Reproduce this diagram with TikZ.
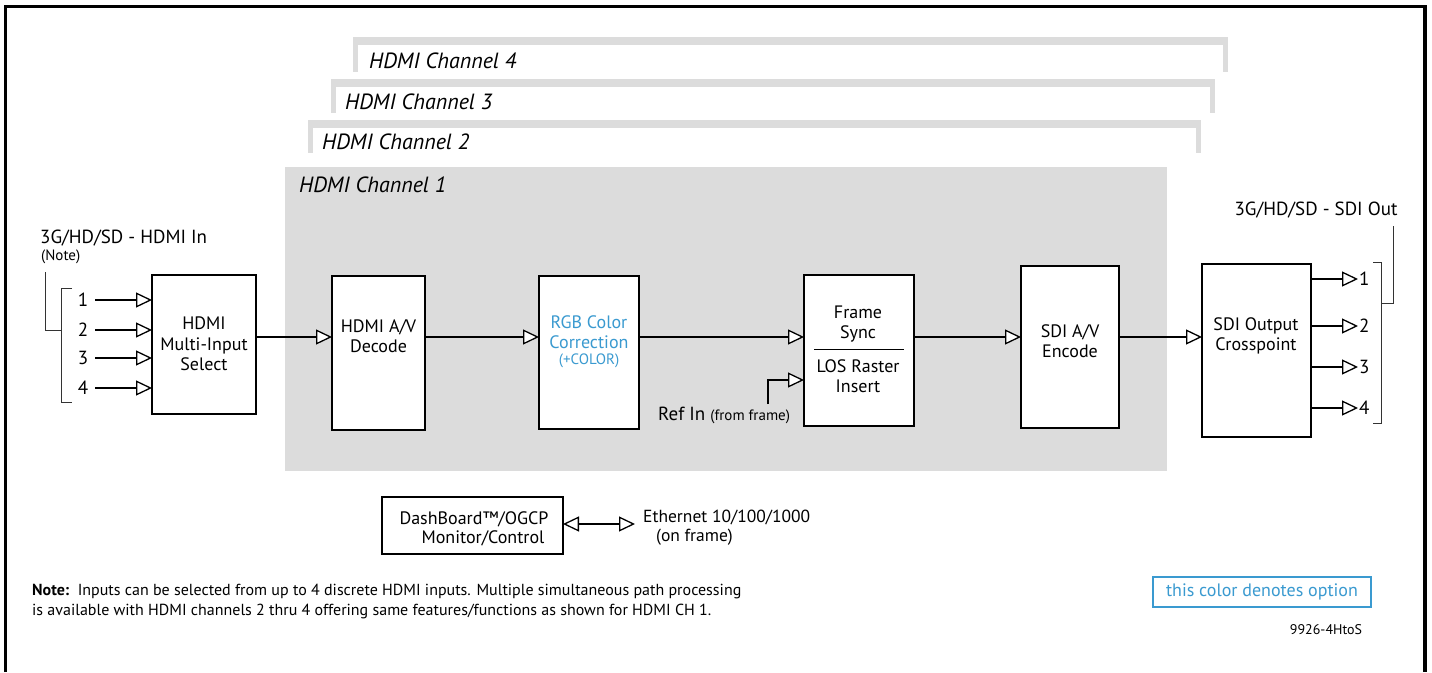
\documentclass[tikz,border=0pt]{standalone}
\usepackage{fontspec}
\setmainfont{PT Sans}
\usetikzlibrary{arrows.meta}
\definecolor{chgray}{HTML}{DCDCDC}
\definecolor{optblue}{HTML}{3A9AD0}
\begin{document}
\begin{tikzpicture}[x=1pt,y=-1pt,
  blk/.style={draw, line width=1.6pt, fill=white, anchor=north west, inner sep=0pt, outer sep=0pt},
  flow/.style={line width=1.4pt, -{Triangle[length=16pt, width=15pt, line width=1.3pt, fill=white]}},
  dbl/.style={line width=1.4pt, {Triangle[length=16pt, width=15pt, line width=1.3pt, fill=white]}-{Triangle[length=16pt, width=15pt, line width=1.3pt, fill=white]}},
  btxt/.style={font=\fontsize{18}{20.5}\selectfont, align=center, inner sep=0pt},
  chlbl/.style={font=\fontsize{22}{24}\selectfont\itshape, anchor=west, inner sep=0pt},
  lbl/.style={font=\fontsize{16.5}{19}\selectfont, inner sep=0pt},
  biglbl/.style={font=\fontsize{19}{22}\selectfont, inner sep=0pt},
  small/.style={font=\fontsize{15}{17}\selectfont, inner sep=0pt},
  brk/.style={line width=1pt, color=black!80},
  line join=miter
]
\useasboundingbox (0,0) rectangle (1432,672);
% frame
\draw[line width=3.5pt] (5.5,672) -- (5.5,6.5) -- (1425,6.5) -- (1425,672);
% channel brackets
\fill[chgray] (353,37) rectangle (1228,45);
\fill[chgray] (353,45) rectangle (358,72);
\fill[chgray] (1223,45) rectangle (1228,72);
\fill[chgray] (331,79) rectangle (1215,87);
\fill[chgray] (331,87) rectangle (336,113);
\fill[chgray] (1210,87) rectangle (1215,113);
\fill[chgray] (308,120) rectangle (1201,128);
\fill[chgray] (308,128) rectangle (313,153);
\fill[chgray] (1196,128) rectangle (1201,153);
\fill[chgray] (285,167) rectangle (1167,471);
\node[chlbl] (c4) at (369,61) {HDMI Channel 4};
\node[chlbl] (c3) at (345,102) {HDMI Channel 3};
\node[chlbl] (c2) at (322,142) {HDMI Channel 2};
\node[chlbl] (c1) at (299,185) {HDMI Channel 1};
% boxes
\node[blk, minimum width=104pt, minimum height=139pt] (mis) at (152,275) {};
\node[blk, minimum width=93pt, minimum height=154pt] (dec) at (332,276) {};
\node[blk, minimum width=100pt, minimum height=153pt] (rgb) at (539,276) {};
\node[blk, minimum width=110pt, minimum height=151pt] (fs) at (804,275) {};
\node[blk, minimum width=98pt, minimum height=162pt] (enc) at (1021,266) {};
\node[blk, minimum width=109pt, minimum height=173pt] (xp) at (1202,264) {};
\node[blk, minimum width=181pt, minimum height=57pt] (dash) at (382,497) {};
\node[blk, draw=optblue, line width=2.6pt, minimum width=218pt, minimum height=30pt] (leg) at (1153,577) {};
% box texts
\node[btxt] (tmis) at (204,344) {HDMI\\Multi-Input\\Select};
\node[btxt] (tdec) at (378.5,336) {HDMI A/V\\Decode};
\node[btxt, text=optblue] (trgb) at (589,332) {RGB Color\\Correction};
\node[small, text=optblue] (trgbo) at (589,361) {(+COLOR)};
\node[btxt] (tfs1) at (858,324) {Frame\\Sync};
\draw[line width=1pt] (814,349) -- (904,349);
\node[btxt] (tfs2) at (858,376) {LOS Raster\\Insert};
\node[btxt] (tenc) at (1070,341) {SDI A/V\\Encode};
\node[btxt] (txp) at (1256,336) {SDI Output\\Crosspoint};
\node[btxt] (td1) at (474,519) {DashBoard™/OGCP};
\node[btxt] (td2) at (483,538) {Monitor/Control};
\node[lbl, font=\fontsize{18}{20}\selectfont, text=optblue] (tleg) at (1262,592) {this color denotes option};
\node[small, font=\fontsize{14}{16}\selectfont] (fig) at (1326,630) {9926-4HtoS};
% flow
\coordinate (fy) at (0,337);
\draw[flow] (mis.east |- fy) -- (dec.west |- fy);
\draw[flow] (dec.east |- fy) -- (rgb.west |- fy);
\draw[flow] (rgb.east |- fy) -- (fs.west |- fy);
\draw[flow] (fs.east |- fy) -- (enc.west |- fy);
\draw[flow] (enc.east |- fy) -- (xp.west |- fy);
% ref in
\coordinate (rc) at (768,404);
\coordinate (ry) at (0,380);
\draw[flow] (rc) -- (768,380) -- (fs.west |- ry);
\node[biglbl, anchor=west] (tref) at (658,415) {Ref In \fontsize{15}{17}\selectfont(from frame)};
% inputs
\foreach \n/\yy in {1/300,2/330,3/358,4/388}{
  \coordinate (i\n) at (95,\yy);
  \node[biglbl] (ti\n) at (83,\yy) {\n};
  \draw[flow] (i\n) -- (mis.west |- i\n);
}
\draw[brk] (72,288) -- (61,288) -- (61,402) -- (72,402);
\draw[brk] (45,272) -- (45,330) -- (61,330);
\node[biglbl, anchor=west] (tin) at (40,238) {3G/HD/SD - HDMI In};
\node[small, anchor=west] (tnote) at (41,257) {(Note)};
% outputs
\foreach \n/\yy in {1/279,2/326,3/367,4/408}{
  \coordinate (o\n) at (1358,\yy);
  \draw[flow] (xp.east |- o\n) -- (o\n);
  \node[biglbl, anchor=west] (to\n) at (1359,\yy) {\n};
}
\draw[brk] (1373,262) -- (1381,262) -- (1381,423) -- (1373,423);
\draw[brk] (1381,303) -- (1393,303) -- (1393,226);
\node[biglbl] (tout) at (1316,210) {3G/HD/SD - SDI Out};
% dashboard
\coordinate (eth) at (635,524);
\draw[dbl] (dash.east |- eth) -- (eth);
\node[lbl, font=\fontsize{17.5}{20}\selectfont, anchor=west] (te1) at (643,517) {Ethernet 10/100/1000};
\node[lbl, font=\fontsize{17.5}{20}\selectfont, anchor=west] (te2) at (656,537) {(on frame)};
% note
\node[small, anchor=west, font=\fontsize{16}{20}\selectfont, align=left] (tnt) at (32,601) {\textbf{Note:}\ \ Inputs can be selected from up to 4 discrete HDMI inputs. Multiple simultaneous path processing\\is available with HDMI channels 2 thru 4 offering same features/functions as shown for HDMI CH 1.};
\end{tikzpicture}
\end{document}
